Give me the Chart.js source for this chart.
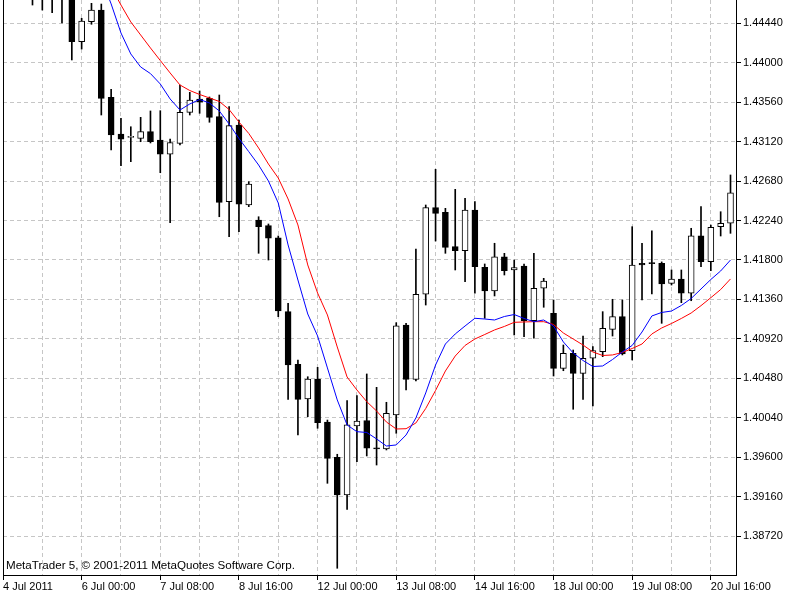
<!DOCTYPE html>
<html>
<head>
<meta charset="utf-8">
<title>EURUSD H4</title>
<script src="https://cdn.jsdelivr.net/npm/chart.js@4.4.1/dist/chart.umd.min.js"></script>
<style>
  html, body { margin: 0; padding: 0; background: #fff; }
  canvas { display: block; }
</style>
</head>
<body>
<canvas id="chart" width="800" height="600"></canvas>
<script>
// H4 bars, index 0 = 6 Jul 00:00
const firstBar = -5;

const opens = [
  1.4482, 1.4478, 1.4476, 1.4473, 1.4478, 1.44235, 1.44458, 1.44588, 1.43614, 1.43205,
  1.43168, 1.43157, 1.43231, 1.43138, 1.42979, 1.43101, 1.43447, 1.43596, 1.43603, 1.43398,
  1.42450, 1.43305, 1.42413, 1.42246, 1.42182, 1.42048, 1.41223, 1.40636, 1.40249, 1.40472,
  1.39992, 1.39598, 1.39178, 1.39947, 1.40007, 1.39699, 1.39691, 1.40070, 1.41074, 1.40468,
  1.41417, 1.42383, 1.42332, 1.41948, 1.41903, 1.42357, 1.41718, 1.41454, 1.41836, 1.41688,
  1.41732, 1.41122, 1.41484, 1.41205, 1.40591, 1.40759, 1.40535, 1.40703, 1.40776, 1.41026,
  1.41167, 1.40788, 1.41763, 1.41763, 1.41763, 1.41539, 1.41587, 1.41428, 1.42070, 1.41780,
  1.42171, 1.42209
];
const highs = [
  1.4490, 1.4485, 1.4482, 1.4484, 1.4482, 1.44496, 1.44663, 1.44655, 1.43704, 1.43380,
  1.43286, 1.43391, 1.43462, 1.43465, 1.43149, 1.43752, 1.43670, 1.43685, 1.43618, 1.43640,
  1.43510, 1.43361, 1.42673, 1.42282, 1.42201, 1.42067, 1.41316, 1.40684, 1.40497, 1.40602,
  1.40014, 1.39632, 1.40230, 1.40286, 1.40528, 1.40379, 1.40212, 1.41100, 1.41093, 1.41922,
  1.42413, 1.42811, 1.42376, 1.42588, 1.42488, 1.42450, 1.41755, 1.41986, 1.41874, 1.41799,
  1.41755, 1.41874, 1.41595, 1.41353, 1.40851, 1.40795, 1.40951, 1.40832, 1.41223, 1.41361,
  1.41353, 1.42171, 1.41986, 1.42126, 1.41778, 1.41688, 1.41688, 1.42153, 1.42394, 1.42190,
  1.42338, 1.42748
];
const lows = [
  1.44644, 1.44588, 1.44558, 1.44443, 1.44031, 1.44153, 1.44429, 1.43417, 1.43027, 1.42851,
  1.42896, 1.43119, 1.43105, 1.42773, 1.42215, 1.43082, 1.43417, 1.43436, 1.43336, 1.42282,
  1.42059, 1.42115, 1.42394, 1.41874, 1.41799, 1.41167, 1.40245, 1.39847, 1.40051, 1.39922,
  1.39308, 1.38360, 1.39018, 1.39549, 1.39613, 1.39512, 1.39680, 1.39866, 1.40349, 1.40450,
  1.41297, 1.42011, 1.41874, 1.41688, 1.41557, 1.41428, 1.41149, 1.41398, 1.41632, 1.40963,
  1.40944, 1.40926, 1.41272, 1.40505, 1.40564, 1.40134, 1.40245, 1.40171, 1.40721, 1.40951,
  1.40740, 1.40684, 1.41353, 1.41420, 1.41093, 1.41520, 1.41323, 1.41345, 1.41725, 1.41680,
  1.42067, 1.42097
];
const closes = [
  1.4476, 1.4474, 1.4473, 1.4478, 1.44235, 1.44466, 1.44588, 1.43603, 1.43194, 1.43146,
  1.43172, 1.43231, 1.43119, 1.42979, 1.43108, 1.43447, 1.43584, 1.43559, 1.43391, 1.42443,
  1.43298, 1.42421, 1.42647, 1.42171, 1.42042, 1.41230, 1.40628, 1.40245, 1.40472, 1.39984,
  1.39587, 1.39178, 1.39959, 1.40003, 1.39699, 1.39693, 1.40089, 1.41066, 1.40468, 1.41417,
  1.42383, 1.42320, 1.41941, 1.41903, 1.42357, 1.41725, 1.41454, 1.41836, 1.41680, 1.41714,
  1.41122, 1.41484, 1.41565, 1.40591, 1.40759, 1.40535, 1.40703, 1.40788, 1.41037, 1.41167,
  1.40751, 1.41744, 1.41744, 1.41758, 1.41532, 1.41587, 1.41428, 1.42070, 1.41780, 1.42164,
  1.42209, 1.42550
];

// moving averages (blue = fast, red = slow)
const maFast = [
  null, null, null, null, null, 1.45537, 1.45235, 1.44945, 1.44656, 1.44332,
  1.44098, 1.43953, 1.43879, 1.43763, 1.43596, 1.43473, 1.43540, 1.43590, 1.43551, 1.43462,
  1.43317, 1.43155, 1.43008, 1.42859, 1.42681, 1.42435, 1.41967, 1.41576, 1.41197, 1.40952,
  1.40595, 1.40238, 1.39959, 1.39884, 1.39875, 1.39803, 1.39724, 1.39736, 1.39847, 1.40037,
  1.40316, 1.40628, 1.40862, 1.40974, 1.41063, 1.41149, 1.41141, 1.41130, 1.41169, 1.41191,
  1.41147, 1.41111, 1.41130, 1.41063, 1.40885, 1.40762, 1.40678, 1.40611, 1.40617, 1.40689,
  1.40773, 1.40846, 1.40996, 1.41175, 1.41214, 1.41230, 1.41292, 1.41370, 1.41476, 1.41582,
  1.41677, 1.41799
];
const maSlow = [
  null, null, null, null, null, 1.45503, 1.45280, 1.45057, 1.44845, 1.44644,
  1.44455, 1.44310, 1.44165, 1.44025, 1.43886, 1.43752, 1.43690, 1.43646, 1.43607, 1.43568,
  1.43478, 1.43339, 1.43211, 1.43049, 1.42870, 1.42714, 1.42480, 1.42190, 1.41744, 1.41431,
  1.41186, 1.40829, 1.40494, 1.40349, 1.40219, 1.40115, 1.39992, 1.39914, 1.39917, 1.39981,
  1.40143, 1.40344, 1.40561, 1.40728, 1.40846, 1.40918, 1.40968, 1.41019, 1.41058, 1.41104,
  1.41108, 1.41111, 1.41111, 1.41080, 1.40985, 1.40918, 1.40851, 1.40773, 1.40734, 1.40740,
  1.40768, 1.40812, 1.40862, 1.40974, 1.41041, 1.41091, 1.41147, 1.41208, 1.41290, 1.41379,
  1.41470, 1.41588
];

const priceTicks = [1.38720, 1.39160, 1.39600, 1.40040, 1.40480, 1.40920, 1.41360,
  1.41800, 1.42240, 1.42680, 1.43120, 1.43560, 1.44000, 1.44440];
const timeTickPos = [-8, 0, 8, 16, 24, 32, 40, 48, 56, 64];
const timeTickText = ['4 Jul 2011', '6 Jul 00:00', '7 Jul 08:00', '8 Jul 16:00', '12 Jul 00:00',
  '13 Jul 08:00', '14 Jul 16:00', '18 Jul 00:00', '19 Jul 08:00', '20 Jul 16:00'];

const bars = opens.map((_, k) => firstBar + k);
const gridPos = Array.from({ length: 19 }, (_, k) => -8 + 4 * k);

const GRID = '#c6c6c6';
const DASH = [4, 3];

Chart.defaults.font.family = '"Liberation Sans", Arial, sans-serif';
Chart.defaults.font.size = 11;
Chart.defaults.color = '#000';

const framePlugin = {
  id: 'frame',
  afterDraw(chart) {
    const { ctx, chartArea: a } = chart;
    ctx.save();
    ctx.strokeStyle = '#000';
    ctx.lineWidth = 1;
    ctx.beginPath();
    ctx.moveTo(a.left + 0.5, a.top);
    ctx.lineTo(a.left + 0.5, a.bottom + 1);
    ctx.stroke();
    ctx.fillStyle = '#000';
    ctx.font = '11.6px "Liberation Sans", Arial, sans-serif';
    ctx.textBaseline = 'middle';
    ctx.fillText('MetaTrader 5, \u00a9 2001-2011 MetaQuotes Software Corp.', a.left + 3, a.bottom - 9);
    ctx.restore();
  }
};

new Chart(document.getElementById('chart'), {
  type: 'bar',
  data: {
    datasets: [
      {
        type: 'line',
        label: 'MA fast',
        data: bars.map((x, k) => ({ x, y: maFast[k] })),
        borderColor: '#0000ff',
        borderWidth: 1,
        pointRadius: 0,
        tension: 0,
        order: 0
      },
      {
        type: 'line',
        label: 'MA slow',
        data: bars.map((x, k) => ({ x, y: maSlow[k] })),
        borderColor: '#ff0000',
        borderWidth: 1,
        pointRadius: 0,
        tension: 0,
        order: 0
      },
      {
        label: 'body',
        data: bars.map((x, k) => ({ x, y: [opens[k], closes[k]] })),
        backgroundColor: bars.map((_, k) => closes[k] >= opens[k] ? '#ffffff' : '#000000'),
        borderColor: '#000',
        borderWidth: 1,
        borderSkipped: false,
        barThickness: 6,
        minBarLength: 1,
        grouped: false,
        order: 1
      },
      {
        label: 'wick',
        data: bars.map((x, k) => ({ x, y: [lows[k], highs[k]] })),
        backgroundColor: '#000',
        borderWidth: 0,
        barThickness: 1,
        grouped: false,
        order: 2
      }
    ]
  },
  options: {
    responsive: false,
    animation: false,
    devicePixelRatio: 1,
    layout: { padding: { left: 3, top: 0, right: 0, bottom: 0 } },
    plugins: { legend: { display: false }, tooltip: { enabled: false } },
    scales: {
      x: {
        type: 'linear',
        min: -8,
        max: 66.56,
        offset: false,
        afterBuildTicks: s => { s.ticks = gridPos.map(v => ({ value: v })); },
        afterFit: s => { s.height = 25; s.paddingLeft = 0; s.paddingRight = 0; },
        ticks: {
          autoSkip: false,
          maxRotation: 0,
          align: 'start',
          padding: 0,
          color: '#000',
          callback: v => {
            const k = timeTickPos.indexOf(v);
            return k < 0 ? '' : timeTickText[k];
          }
        },
        grid: {
          color: GRID,
          offset: false,
          tickLength: 5,
          tickColor: c => (c.tick && timeTickPos.includes(c.tick.value)) ? '#000' : 'rgba(0,0,0,0)'
        },
        border: { display: true, color: '#000', dash: DASH }
      },
      y: {
        type: 'linear',
        position: 'right',
        min: 1.38285,
        max: 1.44700,
        beginAtZero: false,
        afterBuildTicks: s => { s.ticks = priceTicks.map(v => ({ value: v })); },
        afterFit: s => { s.width = 64; s.paddingTop = 0; s.paddingBottom = 0; },
        ticks: {
          padding: 2,
          color: '#000',
          callback: v => v.toFixed(5)
        },
        grid: { color: GRID, tickLength: 5, tickColor: '#000' },
        border: { display: true, color: '#000', dash: DASH }
      }
    }
  },
  plugins: [framePlugin]
});
</script>
</body>
</html>
